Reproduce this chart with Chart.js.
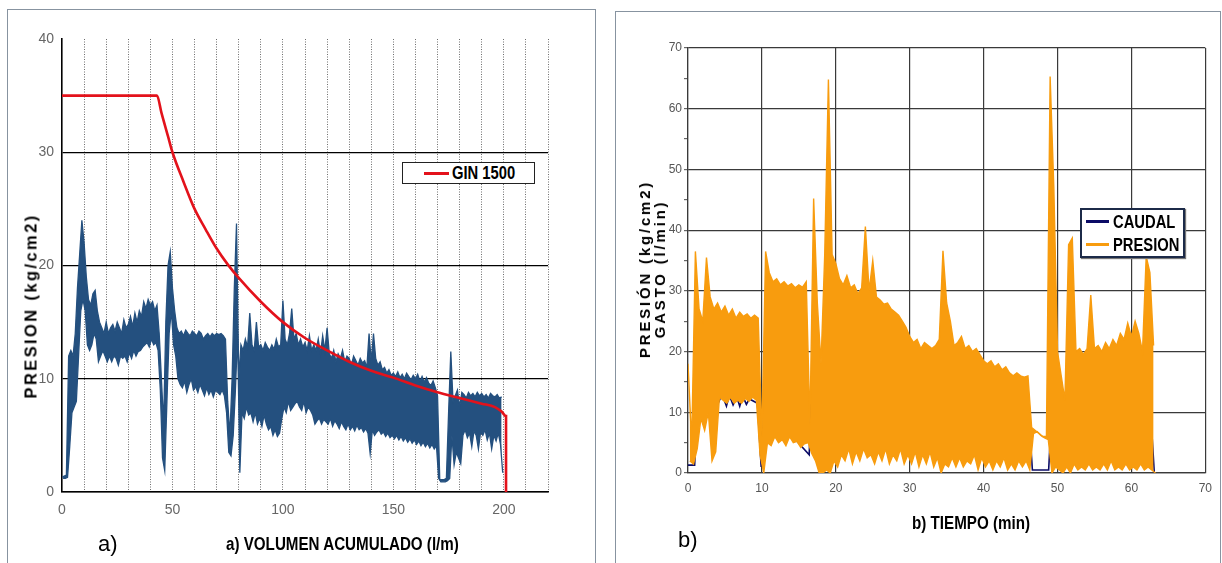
<!DOCTYPE html>
<html>
<head>
<meta charset="utf-8">
<title>Presion vs volumen / tiempo</title>
<script src="https://cdn.jsdelivr.net/npm/chart.js@4.4.1/dist/chart.umd.min.js"></script>
<style>
  body { margin: 0; width: 1222px; height: 563px; overflow: hidden; background: #fff; position: relative; font-family: "Liberation Sans", Arial, sans-serif; }
  .panel { position: absolute; border: 1px solid #8793a0; border-bottom: none; background: #fff; }
  #panelA { left: 7px; top: 9px; width: 587px; height: 560px; }
  #panelB { left: 615px; top: 11px; width: 604px; height: 560px; }
  canvas { position: absolute; }
  #chartA { left: 7px; top: 9px; }
  #chartB { left: 615px; top: 11px; }
  .narrow { font-family: "Liberation Sans", Arial, sans-serif; font-weight: bold; position: absolute; white-space: nowrap; color: #000; transform: scaleX(0.82); transform-origin: 0 0; }
  .tag { position: absolute; font-size: 22px; line-height: 22px; color: #000; }
  .ytitle { position: absolute; font-weight: bold; font-size: 16px; letter-spacing: 2.4px; line-height: 15px; text-align: center; white-space: nowrap; transform: translate(-50%, -50%) rotate(-90deg); }
  .legend { position: absolute; background: #fff; box-sizing: border-box; }
  .legend .sw { position: absolute; height: 3px; }
</style>
</head>
<body>
<div class="panel" id="panelA"></div>
<div class="panel" id="panelB"></div>
<canvas id="chartA" width="588" height="554"></canvas>
<canvas id="chartB" width="605" height="552"></canvas>

<div class="tag" style="left:98px; top:533px;">a)</div>
<div class="narrow" style="left:226px; top:535px; font-size:18.5px; line-height:18.5px;">a) VOLUMEN ACUMULADO (l/m)</div>
<div class="ytitle" style="left:31px; top:306px; font-size:16.5px;">PRESION (kg/cm2)</div>

<div class="tag" style="left:678px; top:529px;">b)</div>
<div class="narrow" style="left:912px; top:514px; font-size:18.5px; line-height:18.5px;">b) TIEMPO (min)</div>
<div class="ytitle" style="left:652px; top:269px; font-size:15px; letter-spacing:2.8px;">PRESIÓN (kg/cm2)<br>GASTO (l/min)</div>

<div class="legend" style="left:402px; top:162px; width:133px; height:22px; border:1px solid #222;">
  <div class="sw" style="left:21px; top:9px; width:25px; background:#e3121b;"></div>
  <div class="narrow" style="left:49px; top:1px; font-size:18px; line-height:19px;">GIN 1500</div>
</div>
<div class="legend" style="left:1080px; top:208px; width:105px; height:50px; border:2px solid #1c2a48; box-shadow: 1px 1px 1px #777;">
  <div class="sw" style="left:4px; top:10px; width:23px; background:#0b0b66;"></div>
  <div class="narrow" style="left:31px; top:1px; font-size:18px; line-height:22px;">CAUDAL</div>
  <div class="sw" style="left:4px; top:33px; width:23px; background:#f89c0e;"></div>
  <div class="narrow" style="left:31px; top:24px; font-size:18px; line-height:22px;">PRESION</div>
</div>

<script>
// a) presion vs volumen acumulado, max and min of the trace per litre, 0..199
const volHi = [
  1.3, 1.4, 1.5, 12, 12.5, 12, 14, 18, 21, 24,
  22, 19, 17, 16.5, 17.5, 17.8, 16, 15, 14.5, 14,
  15, 14, 14.5, 14.8, 14.2, 15, 14.5, 14, 15.2, 14.5,
  14.8, 15.5, 14.6, 15.8, 15, 16, 15.5, 16.8, 16.2, 17,
  16.5, 16.8, 16, 16.5, 14, 10, 6, 15, 20, 21.2,
  18, 16, 14.5, 14, 14.2, 13.8, 14.3, 14, 13.8, 14.2,
  14, 13.8, 14.2, 14, 13.5, 13.8, 14, 13.7, 14, 13.8,
  14, 13.9, 14, 13.8, 13.5, 8, 5, 10, 18, 23.7,
  10, 13, 12.5, 13.5, 12.8, 15.8, 13, 12.5, 15, 12.8,
  13, 12.5, 13.2, 12.8, 12.5, 13, 12.6, 13.5, 12.8, 13,
  16.9, 13.5, 13, 14, 16.2, 13.5, 14, 13, 13.5, 12.8,
  13.2, 12.5, 13.8, 12.5, 13, 12.5, 13.5, 12.2, 13.8, 12.5,
  14.5, 12.2, 11.8, 12.5, 11.5, 12.2, 11.8, 12.5, 11.5, 12,
  11.8, 11.2, 12, 11.6, 11.2, 11.8, 11.4, 11.6, 11, 14,
  11.5, 14, 11.8, 11.2, 11.5, 10.8, 11, 10.5, 10.8, 10.3,
  10.5, 10.2, 10.6, 10.1, 10.4, 10, 10.5, 10.2, 9.9, 10.3,
  10, 10.4, 9.8, 10.2, 9.7, 10.1, 9.6, 9.4, 9.8, 9.2,
  8.5, 1.1, 1.1, 1.1, 1.2, 7, 12.4, 8, 8.5, 9,
  7.5, 8.8, 8.6, 8.3, 8.8, 8.5, 8.7, 8.4, 8.8, 8.5,
  8.7, 8.4, 8.6, 8.3, 8.7, 8.5, 8.4, 8.6, 8.3, 8.4
];
const volLo = [
  1.2, 1.2, 1.3, 4, 7, 7.5, 8, 12, 16, 17,
  16, 13, 12.5, 13, 14, 13.5, 11.5, 12, 12.5, 12,
  11.5, 12, 11.5, 12, 11.8, 11.2, 12, 11.8, 12, 11.5,
  12.3, 11.8, 12.5, 12, 12.4, 12.5, 12.8, 13, 13.2, 12.8,
  13.5, 13, 13.2, 12.5, 9, 3, 1.9, 8, 14, 16,
  13, 12, 10, 9.5, 9.2, 9.8, 8.8, 9.5, 10, 9,
  9.3, 8.8, 9.5, 9, 8.5, 9.2, 8.6, 9, 8.4, 9,
  8.8, 8.6, 9, 8.5, 7, 3.5, 3.2, 5, 9, 14,
  1.7, 7, 6.5, 7.5, 6.8, 7, 6.2, 7, 6, 6.5,
  5.8, 6.8, 6, 5.5, 5.8, 5, 5.5, 4.9, 5.2, 6.5,
  7.5, 7, 8, 7.2, 7.5, 7.8, 8, 7.5, 7.2, 8,
  7, 7.5, 7.2, 6.8, 6, 6.3, 6.5, 6, 6.4, 6.2,
  6, 6.5, 5.8, 6.3, 6, 5.6, 6.2, 5.8, 5.5, 6,
  5.5, 5.8, 5.4, 5.9, 5.5, 5.7, 5.3, 5.6, 5.2, 3.4,
  5.5, 5, 5.3, 5.5, 5.1, 5.3, 4.9, 5.2, 4.8, 5,
  4.7, 5, 4.6, 4.9, 4.5, 4.8, 4.4, 4.7, 4.3, 4.6,
  4.2, 4.5, 4.1, 4.4, 4, 4.3, 3.9, 4.2, 3.8, 4.1,
  1.2, 0.9, 0.9, 0.9, 1.0, 1.2, 5, 2.4, 3.5, 3,
  2.5, 5, 5.5, 4.8, 5.2, 4, 5.4, 5, 3.8, 5.3,
  5, 5.5, 4.6, 5.2, 3.8, 5, 4.5, 5.2, 4.2, 1.7
];

// GIN 1500 limit curve
const ginX = [0, 43, 45, 48, 50, 55, 60, 65, 70, 75, 80, 90, 100, 110, 120, 130, 140, 150, 160, 170, 180, 190, 196, 199, 201, 201];
const ginY = [35, 35, 33.5, 31.4, 30, 27.4, 25, 23.2, 21.5, 20.1, 18.9, 16.8, 15, 13.6, 12.5, 11.5, 10.7, 10.1, 9.4, 8.8, 8.3, 7.8, 7.5, 7.1, 6.7, 0];

// b) presion vs tiempo, max and min of the trace every half minute, 0..63
const timeHi = [
  18, 5, 36.5, 27, 25, 35.5, 29, 27, 28, 26.5,
  27.5, 26, 27, 25.5, 26.5, 25.8, 26.2, 25.5, 26, 25.5,
  6, 36.5, 33, 31.5, 32, 31, 31.5, 30.8, 31.2, 30.5,
  31, 30.6, 31.5, 8, 45.2, 28, 18, 36, 64.8, 36,
  34.5, 32, 31, 32.5, 30.5, 31, 29.5, 30.5, 40.6, 30,
  35, 29, 28.5, 27.8, 28, 27, 26.5, 26, 25, 24,
  22.5, 21.5, 22, 20.5, 21.5, 21, 20.5, 21, 22, 36.6,
  28, 25, 21, 21.5, 22.5, 20.5, 21, 20, 20.5, 19.5,
  18.5, 18, 18.5, 17.5, 18, 17, 17.5, 16.5, 16, 16.5,
  16, 15.8, 16, 7.5, 7, 6.5, 6, 6, 65.3, 47,
  20, 16, 12, 37.6, 38.7, 20, 20.5, 19.5, 20.5, 29.3,
  20.5, 21, 20, 21.5, 20.5, 22, 21, 23, 22, 24.7,
  22.5, 25, 23, 20, 35.7, 33, 21
];
const timeLo = [
  2, 1.5, 4, 9, 7, 10, 2, 3.5, 12.5, 12,
  11.5, 12.5, 11.5, 12, 11.5, 12.3, 11.8, 12.5, 12, 3,
  0, 5, 4.5, 6, 5, 5.5, 4.5, 6, 5, 5.2,
  4.2, 4.8, 5, 3.2, 2, 0, 0, 0.5, 0, 2,
  1, 3, 2, 4, 1.5, 3.5, 2, 4, 2.5, 3,
  1.5, 3.5, 2, 4, 1.5, 3, 2, 4, 1.5, 3,
  1.5, 3.5, 1, 3, 1.5, 3.5, 1, 2.5, 0, 1.5,
  1, 2.5, 1, 2.5, 1, 2, 1.5, 3, 0.5, 2.5,
  1, 2, 0.5, 2, 1, 2.5, 0.5, 1.5, 0.5, 2,
  1, 2, 0.5, 6.5, 6.8, 6.2, 5.8, 5.5, 0, 1,
  0.5, 0, 1, 0, 1.5, 0.5, 1, 0.5, 1.5, 0.5,
  1, 0.5, 1.5, 0.5, 2, 0.5, 1, 0.5, 1.5, 0.5,
  1, 0.5, 1.5, 0.5, 1, 0.5, 0
];

// caudal, mostly hidden under the pressure trace
const caudalX = [0, 0.9, 1.2, 3.8, 4.1, 4.6, 5.2, 5.6, 6.1, 6.6, 7.0, 7.4, 7.9, 8.3, 9.4, 9.9, 10.6, 11.2, 16.4, 16.9, 17.4, 18.0, 19.0, 46.2, 46.6, 48.8, 49.2, 62.2, 62.4, 62.6, 63.1];
const caudalY = [1.3, 1.3, 11, 14.5, 11.5, 13, 11, 12.8, 11.2, 12.5, 11, 12.7, 11.3, 12.2, 11.5, 1, 17, 10, 3, 20, 2, 0, 10, 8, 0.5, 0.5, 10, 10, 3, 10, 0];

const RED = "#e3121b";
const BLUE = "#24507f";
const ORANGE = "#f89c0e";
const NAVY = "#0b0b66";
const TICKFONT = '"Liberation Sans", Arial, sans-serif';

// max points sit on the sample, min points half a step later
function upper(hi, step) {
  return hi.map((h, i) => ({ x: i * step, y: h }));
}
function lower(lo, step) {
  return lo.map((l, i) => ({ x: i * step + step / 2, y: l }));
}
function pairs(xs, ys) {
  return xs.map((x, i) => ({ x: x, y: ys[i] }));
}

Chart.defaults.animation = false;
Chart.defaults.elements.point.radius = 0;
Chart.defaults.elements.line.tension = 0;
Chart.defaults.plugins.legend.display = false;
Chart.defaults.plugins.tooltip.enabled = false;

new Chart(document.getElementById("chartA"), {
  type: "line",
  data: {
    datasets: [
      { label: "GIN 1500", data: pairs(ginX, ginY), borderColor: RED, borderWidth: 2.6, cubicInterpolationMode: "monotone", order: 0 },
      { label: "PRESION", data: upper(volHi, 1), borderColor: BLUE, backgroundColor: BLUE, fill: "+1", borderWidth: 1.3, order: 1 },
      { label: "PRESION min", data: lower(volLo, 1), borderColor: BLUE, borderWidth: 1.3, order: 1 },
    ],
  },
  options: {
    responsive: false,
    layout: { padding: { top: 30, right: 47, left: 0, bottom: 0 } },
    scales: {
      x: {
        type: "linear",
        min: 0,
        max: 220,
        afterFit: (s) => { s.height = 71; },
        ticks: {
          stepSize: 10,
          autoSkip: false,
          maxRotation: 0,
          padding: 10,
          color: "#666",
          font: { family: TICKFONT, size: 14 },
          callback: (v) => (v % 50 === 0 ? v : ""),
        },
        grid: {
          drawTicks: false,
          lineWidth: 1,
          color: (c) => (c.tick && c.tick.value === 0 ? "rgba(0,0,0,0)" : "#6e6e6e"),
        },
        border: { color: "#000", width: 1.6, dash: [1, 1.5] },
      },
      y: {
        min: 0,
        max: 40,
        afterFit: (s) => { s.width = 55; },
        ticks: { stepSize: 10, padding: 8, color: "#666", font: { family: TICKFONT, size: 14 } },
        grid: {
          drawTicks: false,
          lineWidth: 1.2,
          color: (c) => (c.tick && c.tick.value === 40 ? "rgba(0,0,0,0)" : "#000"),
        },
        border: { color: "#000", width: 1.6 },
      },
    },
  },
});

new Chart(document.getElementById("chartB"), {
  type: "line",
  data: {
    datasets: [
      { label: "CAUDAL", data: pairs(caudalX, caudalY), borderColor: NAVY, borderWidth: 1.6, order: 2 },
      { label: "PRESION", data: upper(timeHi, 0.5), borderColor: ORANGE, backgroundColor: ORANGE, fill: "+1", borderWidth: 1.4, order: 1 },
      { label: "PRESION min", data: lower(timeLo, 0.5), borderColor: ORANGE, borderWidth: 1.4, order: 1 },
    ],
  },
  options: {
    responsive: false,
    layout: { padding: { top: 37, right: 14, left: 0, bottom: 0 } },
    scales: {
      x: {
        type: "linear",
        min: 0,
        max: 70,
        afterFit: (s) => { s.height = 90; },
        ticks: { stepSize: 10, autoSkip: false, maxRotation: 0, padding: 8, color: "#555", font: { family: TICKFONT, size: 12 } },
        grid: { drawTicks: false, lineWidth: 1.2, color: "#3a3a3a" },
        border: { color: "#3a3a3a", width: 1.2 },
      },
      y: {
        min: 0,
        max: 70,
        afterFit: (s) => { s.width = 73; },
        ticks: {
          stepSize: 5,
          autoSkip: false,
          padding: 2,
          color: "#555",
          font: { family: TICKFONT, size: 12 },
          callback: (v) => (v % 10 === 0 ? v : ""),
        },
        grid: {
          tickLength: 4,
          lineWidth: 1.2,
          tickColor: "#666",
          color: (c) => (c.tick && c.tick.value % 10 !== 0 ? "rgba(0,0,0,0)" : "#3a3a3a"),
        },
        border: { color: "#3a3a3a", width: 1.2 },
      },
    },
  },
});
</script>
</body>
</html>
